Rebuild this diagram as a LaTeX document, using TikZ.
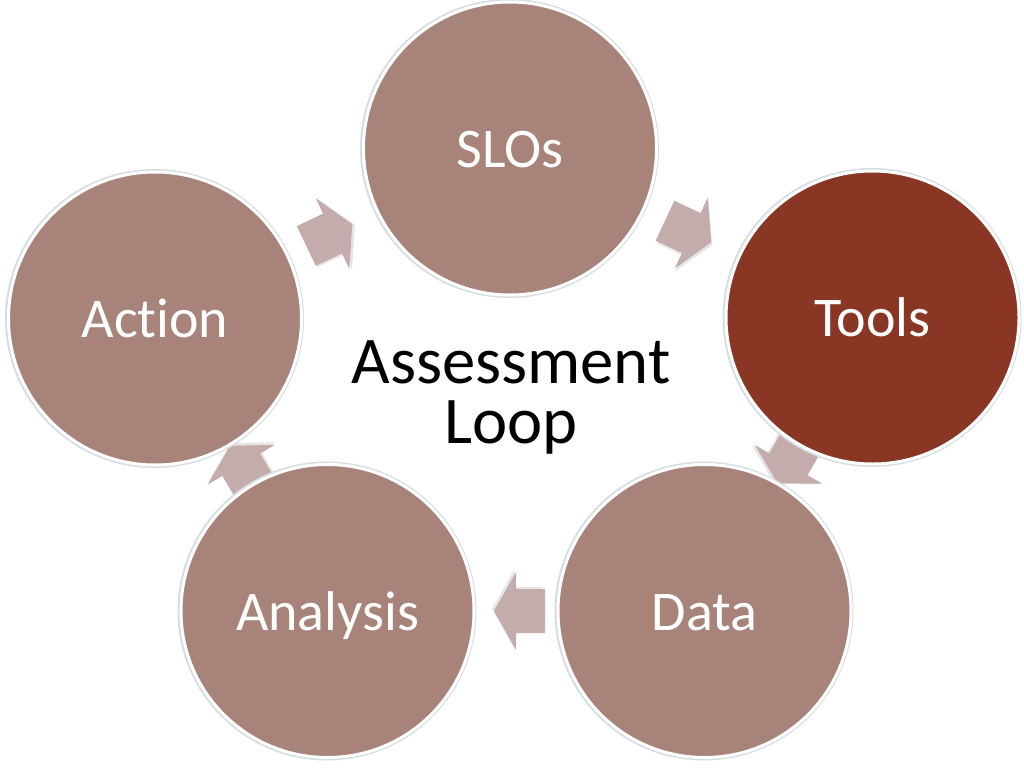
\documentclass[tikz,border=0pt]{standalone}
\usepackage{fontspec}
\setmainfont{Carlito}[Ligatures=NoCommon]
\usetikzlibrary{calc}
\definecolor{circfill}{HTML}{A8837A}
\definecolor{toolfill}{HTML}{8A3625}
\definecolor{arrowcol}{HTML}{C5ACAC}
\definecolor{shadowcol}{HTML}{D5DDE0}
\begin{document}
\begin{tikzpicture}[x=0.75pt,y=0.75pt,
  ring/.style={circle, minimum size=219.75pt, inner sep=0pt, draw=white,
    line width=2.25pt, fill=circfill, text=white,
    font=\fontsize{42}{42}\selectfont, text height=28.5pt, text depth=0pt},
  toolring/.style={ring, fill=toolfill},
  halo/.style={fill=shadowcol},
  cyclearrow/.pic={
    \fill[black, opacity=0.10] (-27,20) -- (2,20) -- (2,37) -- (24,-2) -- (2,-41) -- (2,-24) -- (-27,-24) -- cycle;
    \fill[arrowcol] (-29,22) -- (0,22) -- (0,39) -- (22,0) -- (0,-39) -- (0,-22) -- (-29,-22) -- cycle;
  },
  title/.style={align=center, font=\fontsize{50}{45}\selectfont}
]
\useasboundingbox (0,0) rectangle (1024,-768);
\fill[white] (0,0) rectangle (1024,-768);
% circle centres
\coordinate (cS) at (510,-148.5);
\coordinate (cT) at (872.5,-317.5);
\coordinate (cD) at (704.5,-611);
\coordinate (cN) at (327.5,-611);
\coordinate (cA) at (155,-318.5);
% arrows (behind the circles)
\pic[rotate=25.5]  at ($(cA)!0.5!(cS)$) {cyclearrow};
\pic[rotate=-25]   at ($(cS)!0.5!(cT)$) {cyclearrow};
\pic[rotate=240.2] at ($(cT)!0.5!(cD)$) {cyclearrow};
\pic[rotate=180]   at ($(cD)!0.5!(cN)$) {cyclearrow};
\pic[rotate=120.6] at ($(cN)!0.5!(cA)$) {cyclearrow};
% halos
\foreach \c in {cS,cT,cD,cN,cA}{
  \fill[halo] ($(\c)+(-0.5,0)$) circle[radius=149.5];
}
% circles
\node[ring]     (slo) at (cS) {SLOs};
\node[toolring] (tool) at (cT) {Tools};
\node[ring]     (data) at (cD) {Data};
\node[ring]     (ana) at (cN) {Analysis};
\node[ring]     (act) at (cA) {Action};
% centre title
\node[title] (title) at (511,-397) {Assessment\\Loop};
\end{tikzpicture}
\end{document}
